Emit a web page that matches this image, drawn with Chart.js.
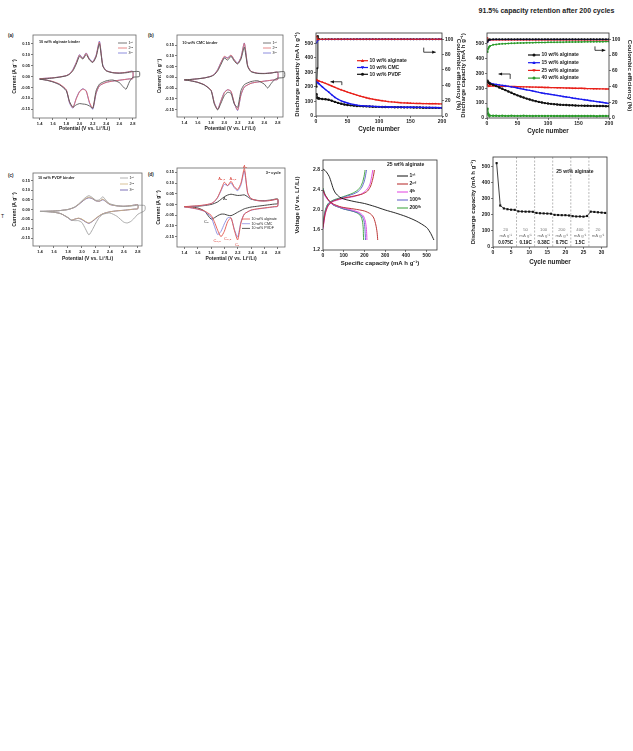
<!DOCTYPE html>
<html>
<head>
<meta charset="utf-8">
<script src="https://cdn.jsdelivr.net/npm/chart.js@4.4.1/dist/chart.umd.min.js"></script>
<style>
  body { margin: 0; background: #fff; width: 633px; height: 751px; position: relative; overflow: hidden; font-family: "Liberation Sans", Arial, sans-serif; }
  canvas { position: absolute; }
  .lbl { position: absolute; font-weight: bold; color: #222; white-space: nowrap; }
</style>
</head>
<body>
<div class="lbl" style="left:460px;width:173px;text-align:center;top:7px;font-size:7px">91.5% capacity retention after 200 cycles</div>
<div class="lbl" style="left:8px;top:33px;font-size:4.5px">(a)</div>
<div class="lbl" style="left:148px;top:33px;font-size:4.5px">(b)</div>
<div class="lbl" style="left:8px;top:173px;font-size:4.5px">(c)</div>
<div class="lbl" style="left:148px;top:172px;font-size:4.5px">(d)</div>
<div class="lbl" style="left:1px;top:213px;font-size:5px;font-weight:normal">T</div>

<canvas id="pa"></canvas>
<canvas id="pb"></canvas>
<canvas id="p3"></canvas>
<canvas id="p4"></canvas>
<canvas id="pc"></canvas>
<canvas id="pd"></canvas>
<canvas id="pv"></canvas>
<canvas id="pr"></canvas>

<script>
// ---- CV potentials (V vs Li+/Li) ----
const vFwd = [1.4,1.5,1.6,1.7,1.8,1.85,1.9,1.95,2.0,2.05,2.1,2.15,2.2,2.25,2.3,2.35,2.4,2.5,2.6,2.7,2.8];
const vRev = [2.8,2.75,2.7,2.65,2.6,2.5,2.4,2.3,2.25,2.2,2.15,2.1,2.05,2.0,1.95,1.9,1.85,1.8,1.7,1.6,1.5,1.4];
const vFwd1 = vFwd.concat([2.9]);
const vRev1 = [2.9].concat(vRev);
const cycleLabels = ['1ˢᵗ', '2ⁿᵈ', '3ʳᵈ'];

// (a) 10 wt% alginate binder, current (A/g)
const aFwd1 = [-0.012,-0.010,-0.007,-0.003,0.003,0.010,0.026,0.056,0.092,0.080,0.100,0.076,0.064,0.090,0.150,0.048,0.026,0.017,0.015,0.017,0.022,0.022];
const aRev1 = [0.000,-0.004,-0.025,-0.058,-0.045,-0.028,-0.016,-0.020,-0.035,-0.065,-0.145,-0.135,-0.128,-0.126,-0.124,-0.130,-0.140,-0.115,-0.065,-0.038,-0.025,-0.017,-0.012];
const aFwd2 = [-0.010,-0.008,-0.006,-0.002,0.004,0.012,0.030,0.062,0.098,0.082,0.106,0.078,0.066,0.095,0.158,0.050,0.027,0.018,0.016,0.019,0.023];
const aRev2 = [-0.010,-0.011,-0.013,-0.015,-0.017,-0.021,-0.027,-0.042,-0.075,-0.145,-0.118,-0.066,-0.058,-0.070,-0.103,-0.142,-0.118,-0.060,-0.035,-0.023,-0.016,-0.012];
const aFwd3 = [-0.010,-0.008,-0.006,-0.002,0.004,0.013,0.032,0.064,0.100,0.084,0.108,0.080,0.068,0.098,0.162,0.052,0.028,0.018,0.016,0.019,0.024];
const aRev3 = [-0.010,-0.011,-0.013,-0.015,-0.017,-0.021,-0.027,-0.043,-0.078,-0.150,-0.122,-0.066,-0.056,-0.068,-0.100,-0.145,-0.122,-0.062,-0.036,-0.024,-0.016,-0.012];

// (b) 10 wt% CMC binder
const bFwd1 = [-0.012,-0.010,-0.007,-0.003,0.004,0.012,0.030,0.060,0.090,0.080,0.098,0.075,0.062,0.085,0.140,0.050,0.026,0.018,0.017,0.020,0.024,0.026];
const bRev1 = [0.000,-0.004,-0.012,-0.030,-0.050,-0.032,-0.016,-0.020,-0.034,-0.062,-0.140,-0.125,-0.075,-0.070,-0.085,-0.120,-0.152,-0.125,-0.062,-0.036,-0.024,-0.017,-0.012];
const bFwd2 = [-0.012,-0.010,-0.007,-0.003,0.005,0.014,0.034,0.068,0.098,0.088,0.104,0.080,0.064,0.092,0.158,0.054,0.028,0.019,0.018,0.020,0.024];
const bRev2 = [-0.010,-0.012,-0.014,-0.016,-0.018,-0.022,-0.028,-0.045,-0.080,-0.152,-0.120,-0.065,-0.058,-0.072,-0.110,-0.150,-0.120,-0.060,-0.035,-0.023,-0.016,-0.012];
const bFwd3 = [-0.012,-0.010,-0.007,-0.003,0.005,0.015,0.036,0.070,0.094,0.092,0.102,0.082,0.066,0.094,0.160,0.055,0.028,0.019,0.018,0.020,0.024];
const bRev3 = [-0.010,-0.012,-0.014,-0.016,-0.018,-0.022,-0.028,-0.046,-0.082,-0.155,-0.122,-0.066,-0.058,-0.070,-0.108,-0.148,-0.118,-0.060,-0.035,-0.023,-0.016,-0.012];

// (c) 10 wt% PVDF binder
const cFwd1 = [-0.010,-0.009,-0.008,-0.005,0.000,0.006,0.014,0.028,0.045,0.062,0.072,0.062,0.048,0.050,0.066,0.045,0.030,0.020,0.016,0.018,0.022,0.020];
const cRev1 = [-0.005,-0.025,-0.045,-0.062,-0.070,-0.066,-0.035,-0.018,-0.025,-0.040,-0.070,-0.105,-0.132,-0.100,-0.068,-0.058,-0.058,-0.055,-0.042,-0.022,-0.014,-0.011,-0.010];
const cFwd2 = [-0.010,-0.009,-0.008,-0.005,0.000,0.005,0.013,0.026,0.042,0.056,0.064,0.058,0.046,0.044,0.054,0.040,0.027,0.019,0.017,0.020,0.024];
const cRev2 = [0.004,0.002,0.000,-0.002,-0.004,-0.007,-0.012,-0.022,-0.032,-0.045,-0.060,-0.070,-0.062,-0.050,-0.045,-0.050,-0.055,-0.042,-0.022,-0.014,-0.011,-0.010];
const cFwd3 = [-0.010,-0.009,-0.008,-0.005,0.000,0.005,0.012,0.025,0.040,0.054,0.061,0.056,0.045,0.043,0.051,0.039,0.026,0.019,0.017,0.020,0.025];
const cRev3 = [0.004,0.002,0.000,-0.002,-0.004,-0.007,-0.012,-0.022,-0.033,-0.047,-0.062,-0.072,-0.064,-0.052,-0.046,-0.050,-0.056,-0.043,-0.022,-0.014,-0.011,-0.010];

// (d) 3rd cycle, binder comparison
const binderLabels = ['10 wt% alginate', '10 wt% CMC', '10 wt% PVDF'];
const dAlgFwd = [-0.010,-0.008,-0.006,-0.002,0.004,0.014,0.034,0.068,0.104,0.088,0.108,0.082,0.070,0.100,0.168,0.055,0.028,0.018,0.016,0.019,0.024];
const dAlgRev = [-0.008,-0.010,-0.012,-0.014,-0.016,-0.020,-0.026,-0.045,-0.085,-0.165,-0.120,-0.062,-0.080,-0.125,-0.150,-0.120,-0.080,-0.050,-0.030,-0.021,-0.015,-0.011];
const dCmcFwd = [-0.011,-0.009,-0.007,-0.003,0.004,0.013,0.032,0.064,0.094,0.088,0.100,0.078,0.064,0.092,0.156,0.052,0.027,0.018,0.016,0.019,0.023];
const dCmcRev = [-0.009,-0.011,-0.013,-0.015,-0.017,-0.021,-0.027,-0.044,-0.080,-0.152,-0.115,-0.062,-0.062,-0.090,-0.125,-0.140,-0.100,-0.058,-0.032,-0.022,-0.016,-0.011];
const dPvdfFwd = [-0.010,-0.009,-0.008,-0.005,0.000,0.005,0.012,0.024,0.036,0.044,0.048,0.045,0.042,0.043,0.045,0.036,0.025,0.019,0.018,0.021,0.026];
const dPvdfRev = [0.004,0.002,0.000,-0.002,-0.004,-0.008,-0.012,-0.020,-0.028,-0.036,-0.045,-0.052,-0.050,-0.045,-0.045,-0.052,-0.062,-0.068,-0.030,-0.016,-0.012,-0.010];

// ---- cycling (discharge capacity mA h/g, coulombic efficiency %) ----
const cycles = [1,2,3,4,5,10,15,20,25,30,35,40,45,50,55,60,65,70,75,80,85,90,95,100,105,110,115,120,125,130,135,140,145,150,155,160,165,170,175,180,185,190,195,200];

const binderAlgCap = [250,245,243,241,240,232,224,215,206,197,188,180,172,164,157,150,143,137,131,125,120,116,112,108,105,102,99,97,95,93,91,90,89,88,87,86,86,85,85,84,84,84,83,83];
const binderCmcCap = [240,232,228,224,220,200,182,165,146,128,115,104,96,89,83,79,75,72,70,68,67,66,65,64,63,63,62,62,61,61,61,60,60,60,60,59,59,59,58,58,58,58,57,57];
const binderPvdfCap = [150,125,122,121,120,117,115,112,105,97,90,84,79,76,73,71,69,68,67,66,65,64,63,63,62,62,61,61,60,60,60,59,59,59,58,58,58,57,57,57,56,56,56,56];
const binderAlgCE = [104,99.2,99.6,99.8,99.7,99.9,99.8,100,99.9,99.8,100,99.9,100,99.8,99.9,100,99.9,99.8,100,99.9,99.9,100,99.8,99.9,100,99.9,99.9,100,99.8,99.9,100,99.9,99.9,100,99.8,99.9,100,99.9,99.9,100,99.8,99.9,100,99.9];
const binderCmcCE = [95,97.8,98.8,99.3,99.5,99.6,99.7,99.6,99.8,99.7,99.8,99.7,99.8,99.9,99.8,99.7,99.8,99.9,99.8,99.8,99.9,99.8,99.7,99.8,99.9,99.8,99.8,99.9,99.7,99.8,99.9,99.8,99.8,99.9,99.7,99.8,99.9,99.8,99.8,99.9,99.7,99.8,99.9,99.8];
const binderPvdfCE = [38,62,104,100.5,100,99.8,99.9,100,99.9,99.8,100,99.9,99.9,100,99.8,99.9,100,99.9,99.8,100,99.9,99.9,100,99.8,99.9,100,99.9,99.9,100,99.8,99.9,100,99.9,99.9,100,99.8,99.9,100,99.9,99.9,100,99.8,99.9,100];

const contentLabels = ['10 wt% alginate', '15 wt% alginate', '25 wt% alginate', '40 wt% alginate'];
const alg10Cap = [250,240,236,233,230,222,214,205,196,187,178,169,160,152,144,137,130,124,118,113,108,104,100,97,95,93,91,89,88,87,86,85,84,83,83,82,82,81,81,80,80,80,79,79];
const alg15Cap = [245,238,236,234,233,228,225,222,219,216,212,209,205,201,197,193,189,185,181,177,172,168,164,162,158,155,151,148,144,141,138,134,131,128,125,122,119,116,113,110,107,104,101,98];
const alg25Cap = [228,212,214,215,215,214,214,213,213,212,212,211,211,210,210,209,209,208,207,207,206,206,205,205,204,204,203,203,202,201,201,200,200,199,199,198,197,197,196,196,195,195,194,194];
const alg40Cap = [62,28,18,16,16,15,15,14,15,14,14,15,14,14,14,15,14,14,13,14,14,14,13,14,14,13,14,13,13,14,13,13,13,14,13,13,13,13,13,12,13,13,13,13];
const alg10CE = [97,99,99.6,99.8,99.9,100,100.2,100,100.1,100,100.2,100.1,100,100.2,100.1,100,100.2,100.1,100,100.2,100.1,100,100.2,100.1,100,100.2,100.1,100,100.2,100.1,100,100.2,100.1,100,100.2,100.1,100,100.2,100.1,100,100.2,100.1,100,100.2];
const alg15CE = [96,98.6,99.2,99.4,99.5,99.6,99.7,99.6,99.7,99.6,99.7,99.6,99.7,99.6,99.7,99.6,99.7,99.6,99.7,99.6,99.7,99.6,99.7,99.6,99.7,99.6,99.7,99.6,99.7,99.6,99.7,99.6,99.7,99.6,99.7,99.6,99.7,99.6,99.7,99.6,99.7,99.6,99.7,99.6];
const alg25CE = [102,98.2,98.6,98.8,98.9,99,99.1,99,99.1,99,99.1,99,99.1,99,99.1,99,99.1,99,99.1,99,99.1,99,99.1,99,99.1,99,99.1,99,99.1,99,99.1,99,99.1,99,99.1,99,99.1,99,99.1,99,99.1,99,99.1,99];
const alg40CE = [84,88,90,91,91.5,93,93.5,94,94.2,94.5,94.7,94.9,95,95.2,95.3,95.4,95.5,95.6,95.7,95.8,95.9,96,96,96.1,96.2,96.2,96.3,96.4,96.4,96.5,96.5,96.6,96.6,96.7,96.7,96.8,96.8,96.9,96.9,97,97,97,97.1,97.1];

// ---- voltage profiles, 25 wt% alginate (capacity mA h/g, voltage V) ----
const profileLabels = ['1ˢᵗ', '2ⁿᵈ', '4ᵗʰ', '100ᵗʰ', '200ᵗʰ'];
const c1DisCap = [0,10,20,30,40,50,60,80,100,150,200,250,300,350,400,450,500,520,535];
const c1DisV = [2.82,2.79,2.74,2.67,2.55,2.42,2.34,2.26,2.22,2.17,2.13,2.07,2.00,1.94,1.87,1.78,1.65,1.53,1.40];
const c2DisCap = [0,10,20,30,50,80,100,150,200,230,245,255,261,264];
const c2DisV = [2.40,2.30,2.24,2.18,2.12,2.07,2.05,2.02,1.98,1.92,1.84,1.70,1.55,1.40];
const c2ChCap = [0,10,20,30,50,80,100,150,190,215,230,240,245,248];
const c2ChV = [1.65,1.92,2.05,2.12,2.18,2.22,2.24,2.28,2.32,2.38,2.48,2.62,2.72,2.80];
const c4DisCap = [0,10,20,30,50,80,100,140,175,195,204,209,211,212];
const c4DisV = [2.38,2.28,2.22,2.17,2.11,2.06,2.04,2.00,1.95,1.88,1.78,1.64,1.50,1.40];
const c4ChCap = [0,10,20,30,50,80,100,150,185,210,225,233,237,240];
const c4ChV = [1.62,1.90,2.04,2.11,2.17,2.21,2.23,2.27,2.32,2.40,2.50,2.63,2.72,2.80];
const c100DisCap = [0,10,20,30,50,80,100,140,170,188,198,202,204,205];
const c100DisV = [2.42,2.30,2.23,2.17,2.10,2.05,2.02,1.98,1.94,1.88,1.78,1.64,1.50,1.40];
const c100ChCap = [0,10,20,30,50,80,100,140,170,188,198,204,207,210];
const c100ChV = [1.70,1.96,2.08,2.14,2.19,2.23,2.26,2.31,2.37,2.46,2.56,2.66,2.73,2.80];
const c200DisCap = [0,10,20,30,50,80,100,140,165,182,190,194,195,196];
const c200DisV = [2.44,2.31,2.24,2.18,2.10,2.05,2.02,1.98,1.94,1.88,1.78,1.64,1.50,1.40];
const c200ChCap = [0,10,20,30,50,80,100,140,165,182,192,198,201,203];
const c200ChV = [1.74,1.98,2.10,2.15,2.20,2.24,2.27,2.33,2.39,2.47,2.57,2.67,2.74,2.80];

// ---- rate capability, 25 wt% alginate ----
const rateCycles = [1,2,3,4,5,6,7,8,9,10,11,12,13,14,15,16,17,18,19,20,21,22,23,24,25,26,27,28,29,30,31];
const rateCap = [522,258,240,235,232,231,222,221,220,220,219,212,210,209,208,207,200,199,198,198,196,192,190,190,189,193,220,218,216,214,212];
const rateCurrents = ['20', '50', '100', '200', '400', '20'];
const rateCRates = ['0.075C', '0.19C', '0.38C', '0.75C', '1.5C', ''];
const rateBounds = [6.5, 11.5, 16.5, 21.5, 26.5];
const rateCenters = [3.5, 9, 14, 19, 24, 29];

Chart.defaults.font.family = '"Liberation Sans", Arial, sans-serif';
Chart.defaults.color = '#222';

const FONT = '"Liberation Sans", Arial, sans-serif';
const pts = (xs, ys) => xs.map((x, i) => ({x: x, y: ys[i]}));

function place(id, box, m) {
  const c = document.getElementById(id);
  const left = box[0] - m[0], top = box[1] - m[1];
  c.width = box[2] + m[2] - left;
  c.height = box[3] + m[3] - top;
  c.style.left = left + 'px';
  c.style.top = top + 'px';
  return c;
}

function line(xs, ys, color, extra) {
  return Object.assign({
    data: pts(xs, ys), borderColor: color, backgroundColor: color,
    showLine: true, pointRadius: 0, borderWidth: 0.9, tension: 0.2
  }, extra || {});
}

function axis(pos, min, max, step, fmt, fs, title, tfs, size) {
  return {
    type: 'linear', position: pos, min: min, max: max,
    ticks: {stepSize: step, includeBounds: false, font: {size: fs, weight: 'bold'}, padding: 1,
            maxRotation: 0, minRotation: 0, autoSkip: false, callback: fmt, color: '#222'},
    grid: {drawOnChartArea: false, drawTicks: true, tickLength: 2, color: '#444', lineWidth: 0.7},
    border: {display: false},
    title: {display: true, text: title, font: {size: tfs, weight: 'bold'}, padding: 0, color: '#222'},
    afterFit: s => {
      if (pos === 'bottom') s.height = size; else s.width = size;
      s.paddingLeft = 0; s.paddingRight = 0; s.paddingTop = 0; s.paddingBottom = 0;
    }
  };
}

function marker(ctx, style, x, y, r, color) {
  ctx.fillStyle = color;
  ctx.beginPath();
  if (style === 'circle') ctx.arc(x, y, r, 0, Math.PI * 2);
  else if (style === 'rect') ctx.rect(x - r, y - r, 2 * r, 2 * r);
  else if (style === 'triangle') { ctx.moveTo(x, y - r * 1.2); ctx.lineTo(x + r * 1.1, y + r * 0.8); ctx.lineTo(x - r * 1.1, y + r * 0.8); ctx.closePath(); }
  else if (style === 'tridown') { ctx.moveTo(x, y + r * 1.2); ctx.lineTo(x + r * 1.1, y - r * 0.8); ctx.lineTo(x - r * 1.1, y - r * 0.8); ctx.closePath(); }
  ctx.fill();
}

function arrow(ctx, p, color) {
  ctx.strokeStyle = color; ctx.fillStyle = color; ctx.lineWidth = 0.8;
  ctx.beginPath();
  ctx.moveTo(p[0][0], p[0][1]);
  for (let i = 1; i < p.length; i++) ctx.lineTo(p[i][0], p[i][1]);
  ctx.stroke();
  const a = p[p.length - 2], b = p[p.length - 1];
  const ang = Math.atan2(b[1] - a[1], b[0] - a[0]);
  const c = Math.cos(ang), s = Math.sin(ang);
  ctx.beginPath();
  ctx.moveTo(b[0], b[1]);
  ctx.lineTo(b[0] - 3.5 * c + 1.6 * s, b[1] - 3.5 * s - 1.6 * c);
  ctx.lineTo(b[0] - 3.5 * c - 1.6 * s, b[1] - 3.5 * s + 1.6 * c);
  ctx.closePath();
  ctx.fill();
}

// frame, legend, notes, arrows and dashed separators drawn on each chart
function extras(o) {
  return {
    id: 'extras',
    afterDraw(chart) {
      const ctx = chart.ctx, a = chart.chartArea, sx = chart.scales.x;
      ctx.save();
      (o.vlines || []).forEach(v => {
        const px = sx.getPixelForValue(v);
        ctx.strokeStyle = '#999'; ctx.lineWidth = 0.7; ctx.setLineDash([2, 1.5]);
        ctx.beginPath(); ctx.moveTo(px, a.top); ctx.lineTo(px, a.bottom); ctx.stroke();
      });
      ctx.setLineDash([]);
      ctx.strokeStyle = o.frame || '#444'; ctx.lineWidth = 0.8;
      ctx.strokeRect(a.left, a.top, a.right - a.left, a.bottom - a.top);
      (o.arrows || []).forEach(ar => {
        const sy = chart.scales[ar.axis || 'y'];
        arrow(ctx, ar.pts.map(q => [sx.getPixelForValue(q[0]), sy.getPixelForValue(q[1])]), '#111');
      });
      (o.notes || []).forEach(n => {
        const sy = chart.scales[n.axis || 'y'];
        ctx.font = n.font; ctx.fillStyle = n.color || '#222';
        ctx.textAlign = n.align || 'center'; ctx.textBaseline = 'middle';
        ctx.fillText(n.text, sx.getPixelForValue(n.x), sy.getPixelForValue(n.y));
      });
      const lg = o.legend;
      if (lg) {
        ctx.textBaseline = 'middle'; ctx.textAlign = 'left';
        let y = a.top + lg.top;
        if (lg.title) {
          ctx.font = lg.font; ctx.fillStyle = '#222';
          ctx.fillText(lg.title, a.left + lg.titleLeft, y);
          y += lg.titleGap;
        }
        lg.items.forEach(it => {
          const x0 = a.left + lg.left;
          ctx.strokeStyle = it.color; ctx.lineWidth = lg.lw || 0.8;
          ctx.beginPath(); ctx.moveTo(x0, y); ctx.lineTo(x0 + lg.len, y); ctx.stroke();
          if (it.marker) marker(ctx, it.marker, x0 + lg.len / 2, y, lg.r, it.color);
          ctx.font = lg.font; ctx.fillStyle = lg.textColor || '#222';
          ctx.fillText(it.text, x0 + lg.len + 1.5, y);
          y += lg.row;
        });
      }
      ctx.restore();
    }
  };
}

function make(id, box, m, datasets, scales, opt) {
  return new Chart(place(id, box, m), {
    type: 'scatter',
    data: {datasets: datasets},
    options: {
      responsive: false, animation: false, events: [],
      layout: {padding: {top: m[1], right: scales.y2 ? 0 : m[2], left: 0, bottom: 0}},
      scales: scales,
      plugins: {legend: {display: false}, tooltip: {enabled: false}}
    },
    plugins: [extras(opt)]
  });
}

const f1 = v => v.toFixed(1);
const f2 = v => (Math.abs(v) < 1e-9 ? 0 : v).toFixed(2);
const fi = v => Math.round(v);
const over = {clip: {left: 0, top: 0, right: 8, bottom: 0}};

function cvScales(m, xmin, xmax, ymin, ymax) {
  return {
    x: axis('bottom', xmin, xmax, 0.2, f1, 4, 'Potential (V vs. Li⁺/Li)', 5, m[3]),
    y: axis('left', ymin, ymax, 0.05, f2, 4, 'Current (A g⁻¹)', 5, m[0])
  };
}

function cvLegend(labels, colors, left, top, row, len) {
  return {left: left, top: top, row: row, len: len, font: '3.6px ' + FONT, lw: 0.8,
          items: labels.map((t, i) => ({text: t, color: colors[i]}))};
}

// (a)
const abColors = ['#555555', '#e06a6a', '#7272d6'];
let m = [21, 5, 8, 14];
make('pa', [33, 35, 136, 118], m, [
  line(vFwd1.concat(vRev1), aFwd1.concat(aRev1), abColors[0], over),
  line(vFwd.concat(vRev), aFwd2.concat(aRev2), abColors[1]),
  line(vFwd.concat(vRev), aFwd3.concat(aRev3), abColors[2])
], cvScales(m, 1.3, 2.85, -0.19, 0.19), {
  frame: '#666',
  notes: [{x: 1.39, y: 0.158, text: '10 wt% alginate binder', font: 'bold 3.8px ' + FONT, align: 'left'}],
  legend: cvLegend(cycleLabels, abColors, 85, 8, 5, 9)
});

// (b)
m = [20, 5, 8, 15];
make('pb', [177, 35, 283, 117], m, [
  line(vFwd1.concat(vRev1), bFwd1.concat(bRev1), abColors[0], over),
  line(vFwd.concat(vRev), bFwd2.concat(bRev2), abColors[1]),
  line(vFwd.concat(vRev), bFwd3.concat(bRev3), abColors[2])
], cvScales(m, 1.29, 2.88, -0.185, 0.197), {
  frame: '#666',
  notes: [{x: 1.37, y: 0.16, text: '10 wt% CMC binder', font: 'bold 3.8px ' + FONT, align: 'left'}],
  legend: cvLegend(cycleLabels, abColors, 86, 8, 5, 8)
});

// (c)
const cColors = ['#a0a0a0', '#cfb27e', '#5e4ea6'];
m = [21, 5, 8, 16];
make('pc', [33, 173, 142, 246], m, [
  line(vFwd1.concat(vRev1), cFwd1.concat(cRev1), cColors[0], over),
  line(vFwd.concat(vRev), cFwd2.concat(cRev2), cColors[1]),
  line(vFwd.concat(vRev), cFwd3.concat(cRev3), cColors[2])
], cvScales(m, 1.3, 2.86, -0.19, 0.19), {
  frame: '#666',
  notes: [{x: 1.37, y: 0.165, text: '10 wt% PVDF binder', font: 'bold 3.8px ' + FONT, align: 'left'}],
  legend: cvLegend(cycleLabels, cColors, 87, 5, 6, 8)
});

// (d)
const dColors = ['#e2524a', '#8a8ae0', '#333333'];
m = [21, 5, 8, 15];
const noteFont = '4px ' + FONT;
make('pd', [177, 168, 285, 247], m, [
  line(vFwd.concat(vRev), dAlgFwd.concat(dAlgRev), dColors[0]),
  line(vFwd.concat(vRev), dCmcFwd.concat(dCmcRev), dColors[1]),
  line(vFwd.concat(vRev), dPvdfFwd.concat(dPvdfRev), dColors[2])
], cvScales(m, 1.29, 2.91, -0.198, 0.17), {
  frame: '#666',
  notes: [
    {x: 2.62, y: 0.148, text: '3ʳᵈ cycle', font: 'bold 3.8px ' + FONT, align: 'left'},
    {x: 2.31, y: 0.176, text: 'A₁', font: noteFont, color: '#d83a32'},
    {x: 1.96, y: 0.118, text: 'A₂,₃', font: noteFont, color: '#d83a32'},
    {x: 2.13, y: 0.118, text: 'A₂,₃', font: noteFont, color: '#d83a32'},
    {x: 2.01, y: 0.028, text: 'A₂', font: noteFont, color: '#222'},
    {x: 1.73, y: -0.08, text: 'C₂', font: noteFont, color: '#222'},
    {x: 1.89, y: -0.17, text: 'C₂,₃', font: noteFont, color: '#d83a32'},
    {x: 2.05, y: -0.16, text: 'C₂,₃', font: noteFont, color: '#d83a32'},
    {x: 2.19, y: -0.186, text: 'C₁', font: noteFont, color: '#d83a32'}
  ],
  legend: cvLegend(binderLabels, dColors, 65, 51, 4.7, 8)
});

// cycling panels
function capSet(ys, color, style, rot) {
  return line(cycles, ys, color, {tension: 0, borderWidth: 1.4, pointRadius: 1.2, pointStyle: style,
                                  pointRotation: rot || 0, pointBorderWidth: 0, yAxisID: 'y'});
}
function ceSet(ys, color, style, rot) {
  return line(cycles, ys, color, {tension: 0, borderWidth: 1, pointRadius: 1, pointStyle: style,
                                  pointRotation: rot || 0, pointBorderWidth: 0, yAxisID: 'y2'});
}
function cycleScales(m) {
  return {
    x: axis('bottom', 0, 200, 50, fi, 5, 'Cycle number', 6.3, m[3]),
    y: axis('left', 0, 570, 100, fi, 5, 'Discharge capacity (mA h g⁻¹)', 6, m[0]),
    y2: axis('right', 0, 108, 20, fi, 5, 'Coulombic efficiency (%)', 6, m[2])
  };
}

const binderColors = ['#e8201a', '#1a1aee', '#111111'];
m = [22, 5, 20, 17];
make('p3', [316, 33, 442, 116], m, [
  capSet(binderAlgCap, binderColors[0], 'triangle'),
  capSet(binderCmcCap, binderColors[1], 'triangle', 180),
  capSet(binderPvdfCap, binderColors[2], 'circle'),
  ceSet(binderAlgCE, binderColors[0], 'triangle'),
  ceSet(binderCmcCE, binderColors[1], 'triangle', 180),
  ceSet(binderPvdfCE, binderColors[2], 'circle')
], cycleScales(m), {
  frame: '#333',
  arrows: [
    {pts: [[41, 212], [41, 235], [23, 235]]},
    {axis: 'y2', pts: [[171, 89], [171, 83], [190, 83]]}
  ],
  legend: {left: 41, top: 27.7, row: 6.8, len: 11, r: 1.5, lw: 1.2, font: 'bold 5px ' + FONT,
           items: binderLabels.map((t, i) => ({text: t, color: binderColors[i], marker: ['triangle', 'tridown', 'circle'][i]}))}
});

const contentColors = ['#111111', '#1a1aee', '#e8201a', '#2a9a2a'];
m = [27, 5, 24, 17];
make('p4', [487, 33, 609, 118], m, [
  capSet(alg10Cap, contentColors[0], 'circle'),
  capSet(alg15Cap, contentColors[1], 'triangle'),
  capSet(alg25Cap, contentColors[2], 'triangle', 180),
  capSet(alg40Cap, contentColors[3], 'circle'),
  ceSet(alg10CE, contentColors[0], 'circle'),
  ceSet(alg15CE, contentColors[1], 'triangle'),
  ceSet(alg25CE, contentColors[2], 'triangle', 180),
  ceSet(alg40CE, contentColors[3], 'circle')
], cycleScales(m), {
  frame: '#333',
  arrows: [
    {pts: [[38, 262], [38, 295], [19, 295]]},
    {axis: 'y2', pts: [[177, 91], [177, 86], [194, 86]]}
  ],
  legend: {left: 41, top: 22, row: 7.7, len: 12, r: 1.5, lw: 1.2, font: 'bold 5px ' + FONT,
           items: contentLabels.map((t, i) => ({text: t, color: contentColors[i], marker: ['circle', 'triangle', 'tridown', 'circle'][i]}))}
});

// voltage profiles
const profileColors = ['#111111', '#b42222', '#e040e0', '#5a5ac8', '#34a034'];
const pl = {tension: 0.25, borderWidth: 0.9};
m = [29, 4, 6, 17];
make('pv', [323, 160, 437, 250], m, [
  line(c1DisCap, c1DisV, profileColors[0], pl),
  line(c2DisCap, c2DisV, profileColors[1], pl),
  line(c2ChCap, c2ChV, profileColors[1], pl),
  line(c4DisCap, c4DisV, profileColors[2], pl),
  line(c4ChCap, c4ChV, profileColors[2], pl),
  line(c100DisCap, c100DisV, profileColors[3], pl),
  line(c100ChCap, c100ChV, profileColors[3], pl),
  line(c200DisCap, c200DisV, profileColors[4], pl),
  line(c200ChCap, c200ChV, profileColors[4], pl)
], {
  x: axis('bottom', 0, 550, 100, fi, 5, 'Specific capacity (mA h g⁻¹)', 6, m[3]),
  y: axis('left', 1.2, 3.0, 0.4, f1, 5, 'Voltage (V vs. Li⁺/Li)', 6, m[0])
}, {
  frame: '#333',
  legend: {title: '25 wt% alginate', titleLeft: 64, titleGap: 11, left: 74, top: 5, row: 8, len: 11,
           lw: 1, font: 'bold 5px ' + FONT,
           items: profileLabels.map((t, i) => ({text: t, color: profileColors[i]}))}
});

// rate capability
m = [23, 5, 6, 19];
const rateNotes = [{x: 17.5, y: 470, text: '25 wt% alginate', font: 'bold 5px ' + FONT, align: 'left'}];
rateCenters.forEach((cx, i) => {
  rateNotes.push({x: cx, y: 108, text: rateCurrents[i], font: '4.3px ' + FONT, color: '#777'});
  rateNotes.push({x: cx, y: 72, text: 'mA g⁻¹', font: '4.3px ' + FONT, color: '#777'});
  if (rateCRates[i]) rateNotes.push({x: cx, y: 27, text: rateCRates[i], font: 'bold 4.6px ' + FONT, color: '#111'});
});
make('pr', [493, 157, 607, 247], m, [
  line(rateCycles, rateCap, '#111111', {tension: 0, borderWidth: 0.8, pointRadius: 1.5, pointStyle: 'rect', pointBorderWidth: 0})
], {
  x: axis('bottom', 0, 31.5, 5, fi, 5, 'Cycle number', 6.3, m[3]),
  y: axis('left', 0, 560, 100, fi, 5, 'Discharge capacity (mA h g⁻¹)', 6, m[0])
}, {
  frame: '#333',
  vlines: rateBounds,
  notes: rateNotes
});
</script>
</body>
</html>
